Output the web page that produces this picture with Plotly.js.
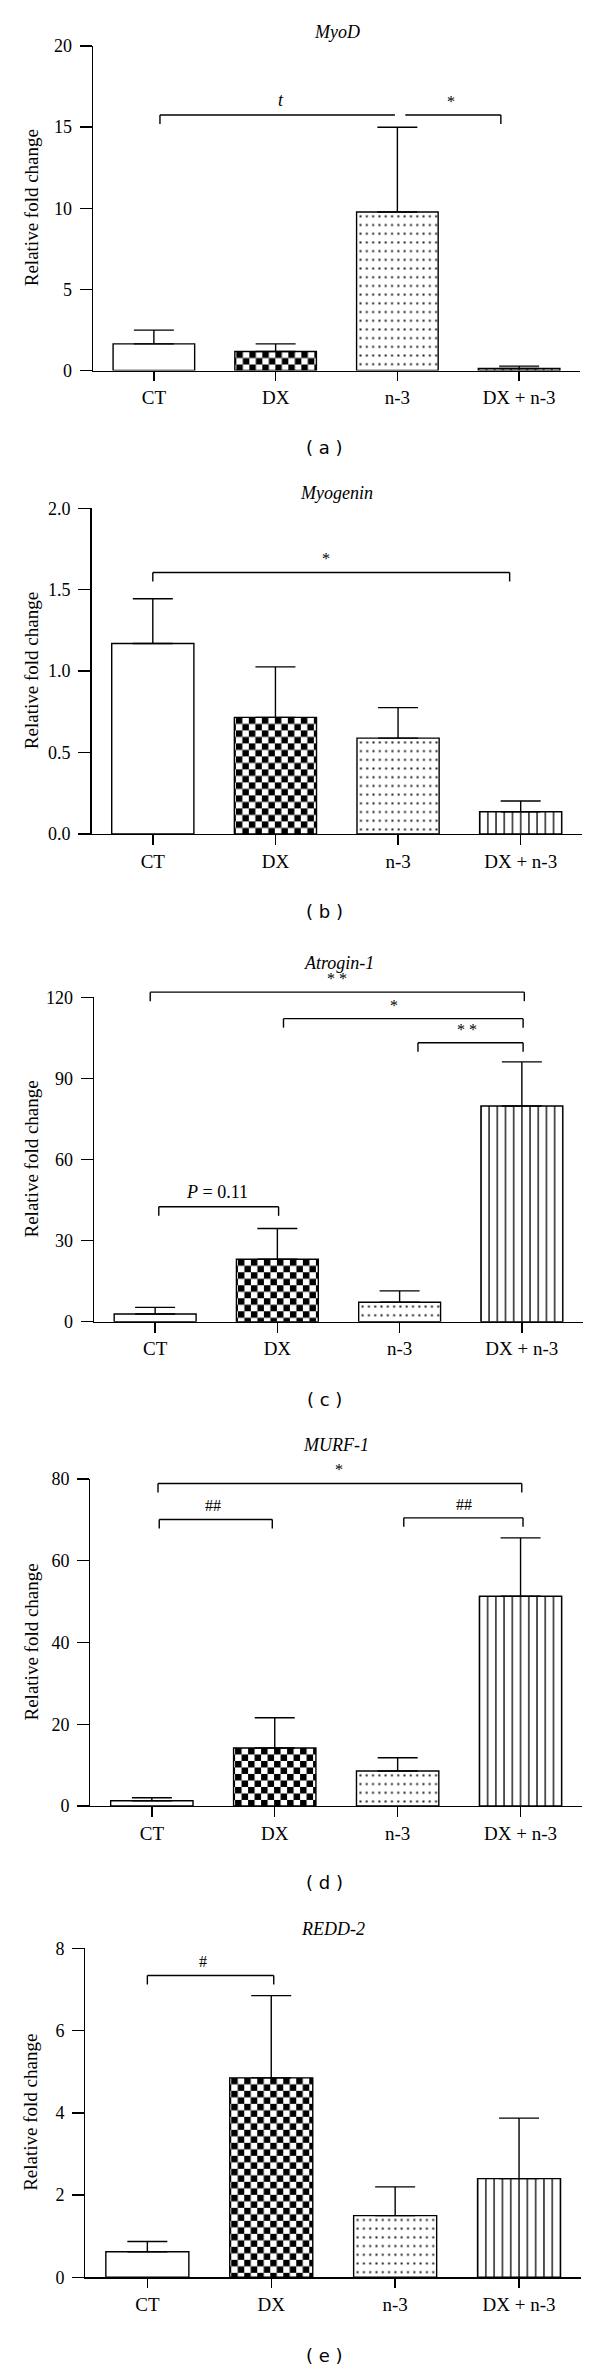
<!DOCTYPE html>
<html><head><meta charset="utf-8">
<script src="https://cdn.plot.ly/plotly-3.0.1.min.js"></script>
<style>html,body{margin:0;padding:0;background:#fff}</style>
</head><body>
<div id="chart" style="width:600px;height:2370px"></div>
<script>
// ---------------- DATA ----------------
const categories = ['CT', 'DX', 'n-3', 'DX + n-3'];

const myodMean = [1.64, 1.17, 9.77, 0.12];
const myodErr = [0.85, 0.47, 5.22, 0.15];
const myogeninMean = [1.17, 0.716, 0.589, 0.137];
const myogeninErr = [0.275, 0.31, 0.187, 0.066];
const atroginMean = [2.85, 23.1, 7.2, 79.8];
const atroginErr = [2.45, 11.4, 4.2, 16.3];
const murfMean = [1.3, 14.2, 8.56, 51.3];
const murfErr = [0.7, 7.4, 3.24, 14.3];
const reddMean = [0.62, 4.85, 1.50, 2.40];
const reddErr = [0.25, 2.0, 0.70, 1.47];

const geneTitles = ['MyoD', 'Myogenin', 'Atrogin-1', 'MURF-1', 'REDD-2'];
const panelCaptions = ['( a )', '( b )', '( c )', '( d )', '( e )'];
const yAxisTitle = 'Relative fold change';

const yTickVals = [[0, 5, 10, 15, 20], [0, 0.5, 1, 1.5, 2], [0, 30, 60, 90, 120], [0, 20, 40, 60, 80], [0, 2, 4, 6, 8]];
const yTickText = [['0', '5', '10', '15', '20'], ['0.0', '0.5', '1.0', '1.5', '2.0'], ['0', '30', '60', '90', '120'], ['0', '20', '40', '60', '80'], ['0', '2', '4', '6', '8']];
const yMax = [20, 2, 120, 80, 8];

// significance brackets: from, to (category positions), level (data units), label, left drop, right drop, label position
const myodBrackets = [
  [0.05, 1.98, 15.75, '<i>t</i>', true, false, 1.04],
  [2.065, 2.85, 15.75, '*', false, true, 2.44]
];
const myogeninBrackets = [
  [0.0, 2.91, 1.606, '*', true, true, 1.41]
];
const atroginBrackets = [
  [-0.04, 3.02, 121.9, '* *', true, true, 1.49],
  [1.05, 3.01, 112.1, '*', true, true, 1.95],
  [2.15, 3.01, 103.2, '* *', true, true, 2.55],
  [0.03, 1.01, 42.5, '<i>P</i> = 0.11', true, true, 0.51]
];
const murfBrackets = [
  [0.05, 3.01, 78.9, '*', true, true, 1.52],
  [0.06, 0.98, 70.1, '##', true, true, 0.5],
  [2.05, 3.02, 70.5, '##', true, true, 2.54]
];
const reddBrackets = [
  [0.0, 1.02, 7.34, '#', true, true, 0.45]
];

const means = [myodMean, myogeninMean, atroginMean, murfMean, reddMean];
const errs = [myodErr, myogeninErr, atroginErr, murfErr, reddErr];
const brackets = [myodBrackets, myogeninBrackets, atroginBrackets, murfBrackets, reddBrackets];

// ---------------- GEOMETRY / STYLE ----------------
const W = 600, H = 2370;
const geom = [
  {l: 93, r: 580, t: 46, b: 370.5, title: 31.7, cap: 447},
  {l: 91.5, r: 582, t: 508.3, b: 834, title: 493.3, cap: 911.7},
  {l: 94, r: 583, t: 997.3, b: 1321.7, title: 963, cap: 1399.3},
  {l: 90.4, r: 582, t: 1479, b: 1806, title: 1445, cap: 1882},
  {l: 85.4, r: 581, t: 1948.3, b: 2277.3, title: 1929.3, cap: 2355}
];
const SERIF = 'Liberation Serif, Times New Roman, serif';
const SANS = 'DejaVu Sans, sans-serif';
const LW = 1.4;
const DROP_PX = 9;
const LABEL_GAP_PX = 3;

const traces = [];
const layout = {
  width: W, height: H,
  margin: {l: 0, r: 0, t: 0, b: 0},
  paper_bgcolor: '#fff', plot_bgcolor: 'rgba(0,0,0,0)',
  showlegend: false,
  font: {family: SERIF, color: '#000'},
  shapes: [], annotations: []
};

function yPaper(i, v) {
  const g = geom[i];
  const y0 = 1 - g.b / H, y1 = 1 - g.t / H;
  return y0 + (v / yMax[i]) * (y1 - y0);
}

geom.forEach((g, i) => {
  const n = i === 0 ? '' : String(i + 1);
  const xa = 'x' + n, ya = 'y' + n;
  traces.push({
    type: 'bar', x: categories, y: means[i], xaxis: xa, yaxis: ya,
    width: 0.67,
    marker: {
      color: '#fff',
      line: {color: '#000', width: LW},
      pattern: {shape: ['', '+', '.', '|'], size: 8, solidity: 0.2, fgcolor: '#000', bgcolor: '#fff', fillmode: 'replace'}
    },
    error_y: {type: 'data', symmetric: false, array: errs[i], arrayminus: [0, 0, 0, 0], color: '#000', thickness: LW, width: 20},
    hoverinfo: 'skip'
  });
  layout['xaxis' + n] = {
    domain: [g.l / W, g.r / W], anchor: ya, type: 'category', range: [-0.5, 3.5],
    showline: true, linecolor: '#000', linewidth: LW,
    ticks: 'outside', ticklen: 9.5, tickwidth: LW, tickcolor: '#000',
    tickfont: {family: SERIF, size: 19, color: '#000'},
    showgrid: false, zeroline: false, fixedrange: true
  };
  layout['yaxis' + n] = {
    domain: [1 - g.b / H, 1 - g.t / H], anchor: xa, range: [0, yMax[i]],
    tickvals: yTickVals[i], ticktext: yTickText[i],
    showline: true, linecolor: '#000', linewidth: LW,
    ticks: 'outside', ticklen: 12, tickwidth: LW, tickcolor: '#000',
    ticklabelstandoff: 4,
    tickfont: {family: SERIF, size: 18, color: '#000'},
    showgrid: false, zeroline: false, fixedrange: true
  };
  layout.annotations.push({xref: 'paper', yref: 'paper', x: (g.l + g.r) / 2 / W, y: 1 - g.title / H,
    xanchor: 'center', yanchor: 'middle', showarrow: false, text: '<i>' + geneTitles[i] + '</i>',
    font: {family: SERIF, size: 18, color: '#000'}});
  layout.annotations.push({xref: 'paper', yref: 'paper', x: 31 / W, y: 1 - (g.t + g.b) / 2 / H,
    xanchor: 'center', yanchor: 'middle', showarrow: false, text: yAxisTitle, textangle: -90,
    font: {family: SERIF, size: 19, color: '#000'}});
  layout.annotations.push({xref: 'paper', yref: 'paper', x: 324 / W, y: 1 - g.cap / H,
    xanchor: 'center', yanchor: 'middle', showarrow: false, text: panelCaptions[i],
    font: {family: SANS, size: 18, color: '#000'}});
  brackets[i].forEach(bk => {
    const [x0, x1, lvl, label, dl, dr, lx] = bk;
    const yl = yPaper(i, lvl), yd = yl - DROP_PX / H;
    const line = {color: '#000', width: LW};
    layout.shapes.push({type: 'line', xref: xa, yref: 'paper', x0: x0, x1: x1, y0: yl, y1: yl, line: line});
    if (dl) layout.shapes.push({type: 'line', xref: xa, yref: 'paper', x0: x0, x1: x0, y0: yl, y1: yd, line: line});
    if (dr) layout.shapes.push({type: 'line', xref: xa, yref: 'paper', x0: x1, x1: x1, y0: yl, y1: yd, line: line});
    layout.annotations.push({xref: xa, yref: 'paper', x: lx, y: yl + LABEL_GAP_PX / H,
      xanchor: 'center', yanchor: 'bottom', showarrow: false, text: label,
      font: {family: SERIF, size: label.length > 4 ? 18 : 16, color: '#000'}});
  });
});

Plotly.newPlot('chart', traces, layout, {staticPlot: true}).then(gd => {
  const NS = 'http://www.w3.org/2000/svg';
  function mk(tag, attrs) {
    const e = document.createElementNS(NS, tag);
    for (const k in attrs) e.setAttribute(k, attrs[k]);
    return e;
  }
  // restyle the pattern tiles: checkerboard (DX), dot grid (n-3), vertical hatching (DX + n-3)
  gd.querySelectorAll('.trace.bars .point path').forEach(p => {
    const fill = p.style.fill || p.getAttribute('fill') || '';
    const m = /#([^"')]+)/.exec(fill);
    if (!m) return;
    const pat = document.getElementById(m[1]);
    if (!pat) return;
    const idx = Array.prototype.indexOf.call(p.parentNode.parentNode.children, p.parentNode);
    const bb = p.getBBox();
    while (pat.firstChild) pat.removeChild(pat.firstChild);
    pat.removeAttribute('patternTransform');
    if (idx === 1) {
      const c = 6.5;
      pat.setAttribute('width', 2 * c); pat.setAttribute('height', 2 * c);
      pat.setAttribute('x', bb.x + 1.5); pat.setAttribute('y', bb.y);
      pat.appendChild(mk('rect', {x: 0, y: 0, width: 2 * c, height: 2 * c, fill: '#fff'}));
      pat.appendChild(mk('rect', {x: 0, y: 0, width: c, height: c, fill: '#000'}));
      pat.appendChild(mk('rect', {x: c, y: c, width: c, height: c, fill: '#000'}));
    } else if (idx === 2) {
      const dw = 6.3, dh = 8.7;
      pat.setAttribute('width', dw); pat.setAttribute('height', dh);
      pat.setAttribute('x', bb.x + 0.8); pat.setAttribute('y', bb.y);
      pat.appendChild(mk('rect', {x: 0, y: 0, width: dw, height: dh, fill: '#fff'}));
      pat.appendChild(mk('rect', {x: dw / 2 - 1, y: dh / 2 - 1, width: 2, height: 2, fill: '#222'}));
    } else if (idx === 3) {
      const s = bb.width / 10;
      pat.setAttribute('width', s); pat.setAttribute('height', 10);
      pat.setAttribute('x', bb.x); pat.setAttribute('y', 0);
      pat.appendChild(mk('rect', {x: 0, y: 0, width: s, height: 10, fill: '#fff'}));
      pat.appendChild(mk('rect', {x: -0.65, y: 0, width: 1.3, height: 10, fill: '#000'}));
      pat.appendChild(mk('rect', {x: s - 0.65, y: 0, width: 1.3, height: 10, fill: '#000'}));
    }
  });
});
</script>
</body></html>
